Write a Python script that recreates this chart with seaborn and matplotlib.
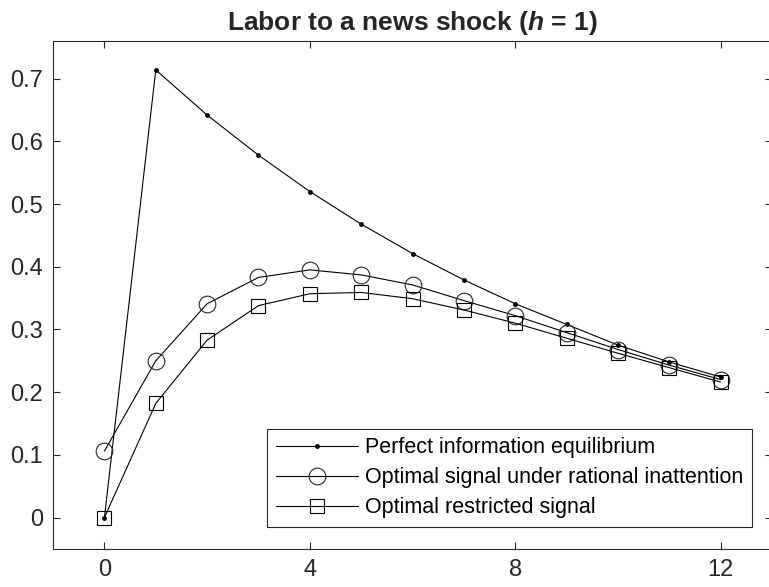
import seaborn as sns
import matplotlib.pyplot as plt
import pandas as pd

periods = list(range(13))
perfect_info = [0.0, 0.714, 0.642, 0.578, 0.520, 0.468, 0.421, 0.379, 0.341, 0.308, 0.275, 0.248, 0.224]
rational_inattention = [0.106, 0.250, 0.341, 0.383, 0.395, 0.387, 0.371, 0.346, 0.322, 0.295, 0.268, 0.243, 0.220]
restricted_signal = [0.0, 0.182, 0.283, 0.338, 0.357, 0.359, 0.349, 0.331, 0.310, 0.286, 0.262, 0.239, 0.216]

labels = ['Perfect information equilibrium',
          'Optimal signal under rational inattention',
          'Optimal restricted signal']
x_ticks = [0, 4, 8, 12]
y_ticks = [0, 0.1, 0.2, 0.3, 0.4, 0.5, 0.6, 0.7]
y_tick_labels = ['0', '0.1', '0.2', '0.3', '0.4', '0.5', '0.6', '0.7']

sns.set_style('ticks')
plt.rcParams['font.family'] = ['Liberation Sans', 'DejaVu Sans']
plt.rcParams['mathtext.fontset'] = 'custom'
plt.rcParams['mathtext.it'] = 'Liberation Sans:italic:bold'
plt.rcParams['mathtext.rm'] = 'Liberation Sans:bold'

axis_grey = '#262626'

data = pd.DataFrame({'t': periods, 'perfect': perfect_info,
                     'ri': rational_inattention, 'restricted': restricted_signal})

fig = plt.figure(figsize=(7.69, 5.87), dpi=100)
ax = fig.add_axes([0.069, 0.065, 0.935, 0.865])

sns.lineplot(data=data, x='t', y='perfect', ax=ax, color='black', lw=0.8,
             marker='o', markersize=3.5, markerfacecolor='black', markeredgewidth=0,
             label=labels[0])
sns.lineplot(data=data, x='t', y='ri', ax=ax, color='black', lw=0.8,
             marker='o', markersize=12, markerfacecolor='none', markeredgecolor=axis_grey,
             markeredgewidth=0.8, label=labels[1])
sns.lineplot(data=data, x='t', y='restricted', ax=ax, color='black', lw=0.8,
             marker='s', markersize=9.5, markerfacecolor='none', markeredgecolor='black',
             markeredgewidth=0.8, label=labels[2])

ax.set_xlim(-1, 13)
ax.set_ylim(-0.05, 0.76)
ax.set_xticks(x_ticks)
ax.set_yticks(y_ticks)
ax.set_yticklabels(y_tick_labels)
ax.set_xlabel('')
ax.set_ylabel('')
ax.tick_params(direction='in', length=5, width=0.8, colors=axis_grey,
               labelsize=17, top=True, right=True, pad=7)
for spine in ax.spines.values():
    spine.set_visible(True)
    spine.set_color(axis_grey)
    spine.set_linewidth(0.8)

ax.set_title(r'Labor to a news shock ($h$ = 1)', fontsize=19, fontweight='bold', pad=8)

leg = ax.legend(loc='lower right', bbox_to_anchor=(0.972, 0.043), fontsize=15.5,
                frameon=True, fancybox=False, edgecolor=axis_grey, framealpha=1,
                handlelength=3.8, borderpad=0.4, labelspacing=0.42, handletextpad=0.35,
                borderaxespad=0.0)
leg.get_frame().set_linewidth(0.8)
for t in leg.get_texts():
    t.set_color('black')

fig.savefig('out.png', dpi=100)
